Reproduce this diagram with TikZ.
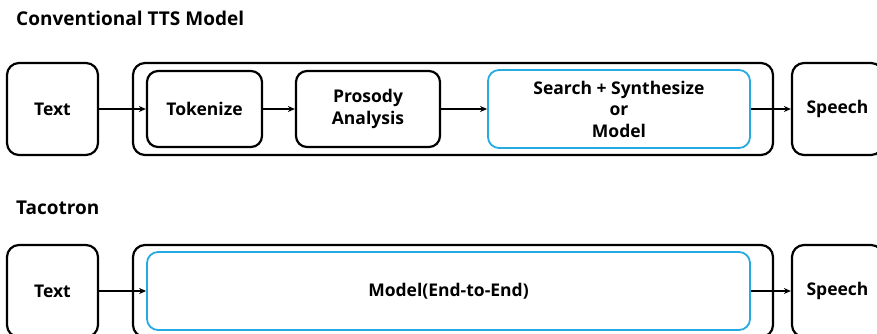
\documentclass[tikz,border=0pt]{standalone}
\usepackage{fontspec}
\setmainfont{Open Sans}
\usetikzlibrary{arrows.meta}

\definecolor{stageblue}{RGB}{38,170,226}

\tikzset{
    box/.style={draw, line width=2.2pt, rounded corners=12pt, inner sep=0pt,
        align=center, font=\bfseries\fontsize{17.5}{21.5}\selectfont},
    inbox/.style={box, rounded corners=11pt},
    bluebox/.style={inbox, draw=stageblue, line width=1.8pt},
    title/.style={anchor=west, inner sep=0pt, font=\bfseries\fontsize{19}{21}\selectfont},
    flow/.style={line width=1.6pt, -{Stealth[length=7pt,width=6pt]}}
}

\begin{document}
\begin{tikzpicture}[x=1pt, y=-1pt]
    \useasboundingbox (0,0) rectangle (877,333);
    \clip (0,0) rectangle (877,333);

    % Conventional pipeline
    \node[title] (convtitle) at (16,18) {Conventional TTS Model};
    \node[box, minimum width=91pt, minimum height=92pt] (text1) at (52.5,109) {Text};
    \node[box, minimum width=640pt, minimum height=92pt] (outer1) at (453,109) {};
    \node[inbox, minimum width=115pt, minimum height=76pt] (tok) at (204.5,109) {Tokenize};
    \node[inbox, minimum width=144pt, minimum height=76pt] (pros) at (368,109) {Prosody\\Analysis};
    \node[bluebox, minimum width=262pt, minimum height=78pt] (search) at (619,109) {Search + Synthesize\\or\\Model};
    \node[box, minimum width=91pt, minimum height=92pt] (speech1) at (837.5,109) {Speech};

    \draw[flow] (text1) -- (tok);
    \draw[flow] (tok) -- (pros);
    \draw[flow] (pros) -- (search);
    \draw[flow] (search) -- (speech1);

    % Tacotron
    \node[title] (tacotitle) at (16,208) {Tacotron};
    \node[box, minimum width=91pt, minimum height=92pt] (text2) at (52.5,291) {Text};
    \node[box, minimum width=640pt, minimum height=92pt] (outer2) at (453,291) {};
    \node[bluebox, minimum width=603pt, minimum height=78pt] (model) at (448.5,291) {Model(End-to-End)};
    \node[box, minimum width=91pt, minimum height=92pt] (speech2) at (837.5,291) {Speech};

    \draw[flow] (text2) -- (model);
    \draw[flow] (model) -- (speech2);

\end{tikzpicture}
\end{document}
